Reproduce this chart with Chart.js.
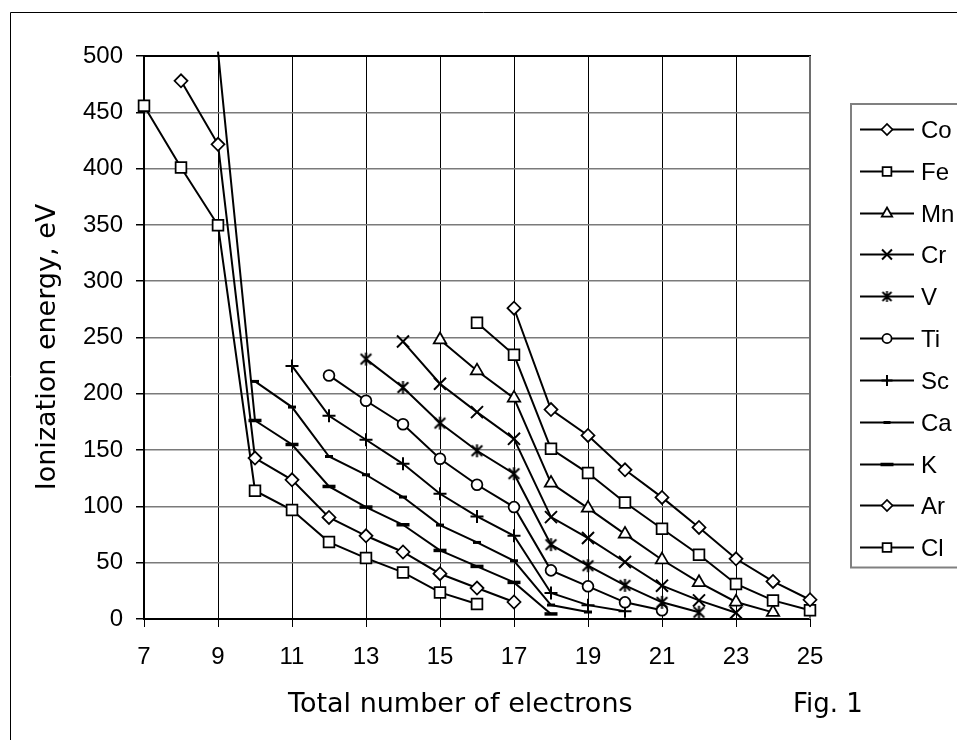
<!DOCTYPE html>
<html>
<head>
<meta charset="utf-8">
<script src="https://cdn.jsdelivr.net/npm/chart.js@4/dist/chart.umd.min.js"></script>
<style>
html,body{margin:0;padding:0;background:#fff;}
canvas{display:block;}
</style>
</head>
<body>
<canvas id="c" width="957" height="740"></canvas>
<script>
// ---------- data ----------
const electrons = [7,8,9,10,11,12,13,14,15,16,17,18,19,20,21,22,23,24,25];
const xTicks = [7,9,11,13,15,17,19,21,23,25];
const yTicks = [0,50,100,150,200,250,300,350,400,450,500];
const seriesNames = ['Co','Fe','Mn','Cr','V','Ti','Sc','Ca','K','Ar','Cl'];

const Co = [null,null,null,null,null,null,null,null,null,null,276,186,163,132.5,108,81.3,53.5,33.4,17.1];
const Fe = [null,null,null,null,null,null,null,null,null,263,234.6,151.2,129.6,103.5,80.2,57.1,31.1,16.5,7.7];
const Mn = [null,null,null,null,null,null,null,null,248,220.4,196.2,120.7,98.5,75.4,52.6,32.5,15.1,5.9,null];
const Cr = [null,null,null,null,null,null,null,246.4,208.9,183.7,160,90.5,71.9,50.6,29.6,16.5,5.5,null,null];
const V  = [null,null,null,null,null,null,230.8,205.6,174,149.4,129,66,47.3,29.9,14.8,6,null,null,null];
const Ti = [null,null,null,null,null,216.3,193.8,173,142.3,119.2,99.4,43.2,29,14.8,7.7,null,null,null,null];
const Sc = [null,null,null,null,224.8,180.5,159.2,137.8,111.2,91.1,73.9,23.1,12.3,6.8,null,null,null,null,null];
const Ca = [null,null,null,211,188.2,144.3,128.1,108.3,83.4,68,51.7,12.4,6.2,null,null,null,null,null,null];
const K  = [null,null,503.8,176.3,155,117.7,99.4,83.7,60.9,46.7,32.5,4.5,null,null,null,null,null,null,null];
const Ar = [null,478,421.6,142.9,123.6,90.2,73.9,59.5,40.2,27.5,15.1,null,null,null,null,null,null,null,null];
const Cl = [455.9,400.9,349.7,113.9,96.7,68.3,54.1,41.4,23.6,13.3,null,null,null,null,null,null,null,null,null];

const seriesValues = [Co,Fe,Mn,Cr,V,Ti,Sc,Ca,K,Ar,Cl];

// ---------- marker styles ----------
function asteriskCanvas(size, lw){
  const c = document.createElement('canvas');
  c.width = size; c.height = size;
  const g = c.getContext('2d');
  g.strokeStyle = '#000'; g.lineWidth = lw; g.lineCap = 'butt';
  const h = size/2, r = h - 1, d = r*0.82;
  g.beginPath();
  g.moveTo(h, h-r); g.lineTo(h, h+r);
  g.moveTo(h-d, h-d); g.lineTo(h+d, h+d);
  g.moveTo(h-d, h+d); g.lineTo(h+d, h-d);
  g.stroke();
  return c;
}
const starBig = asteriskCanvas(15, 2);
const starSmall = asteriskCanvas(13, 1.8);

const styles = {
  Co:{ps:'rectRot', r:6.5, bw:1.75, lr:5.5},
  Fe:{ps:'rect', r:7.6, bw:1.75, lr:6.2},
  Mn:{ps:'triangle', r:7.2, bw:1.75, lr:6},
  Cr:{ps:'crossRot', r:8.5, bw:2, lr:7},
  V: {ps:starBig, r:7, bw:2, lr:6, legendPs:starSmall},
  Ti:{ps:'circle', r:5.4, bw:1.75, lr:4.6},
  Sc:{ps:'cross', r:6.5, bw:2, lr:5.5},
  Ca:{ps:'line', r:4, bw:3, lr:3.5},
  K: {ps:'line', r:6.5, bw:3.5, lr:6.5},
  Ar:{ps:'rectRot', r:6.5, bw:1.75, lr:5.5},
  Cl:{ps:'rect', r:7.6, bw:1.75, lr:6.2}
};

const datasets = seriesNames.map((name, i) => {
  const vals = seriesValues[i];
  const pts = electrons.map((x, j) => ({x: x, y: vals[j]})).filter(p => p.y !== null);
  const st = styles[name];
  return {
    label: name,
    data: pts,
    borderColor: '#000',
    borderWidth: 2,
    backgroundColor: '#fff',
    pointStyle: st.ps,
    pointRadius: pts.map(p => p.y > 500 ? 0 : st.r),
    pointBorderWidth: st.bw,
    pointBackgroundColor: '#fff',
    pointBorderColor: '#000',
    tension: 0,
    clip: false,
    spanGaps: false
  };
});

// ---------- decoration plugin ----------
const deco = {
  id: 'deco',
  beforeDatasetsDraw(chart){
    const ctx = chart.ctx, a = chart.chartArea;
    ctx.save();
    // outer frame
    ctx.strokeStyle = '#000'; ctx.lineWidth = 1;
    ctx.beginPath();
    ctx.moveTo(10.5, 740); ctx.lineTo(10.5, 12.5); ctx.lineTo(957, 12.5);
    ctx.stroke();
    // plot border: top black, right grey
    ctx.lineWidth = 2;
    ctx.strokeStyle = '#000';
    ctx.beginPath(); ctx.moveTo(a.left, a.top); ctx.lineTo(a.right + 1, a.top); ctx.stroke();
    ctx.strokeStyle = '#6e6e6e';
    ctx.beginPath(); ctx.moveTo(a.right, a.top); ctx.lineTo(a.right, a.bottom); ctx.stroke();
    ctx.restore();
  },
  afterDraw(chart){
    const ctx = chart.ctx;
    ctx.save();
    ctx.fillStyle = '#000';
    // axis titles
    ctx.font = '27px "DejaVu Sans", Verdana, sans-serif';
    ctx.textAlign = 'left'; ctx.textBaseline = 'alphabetic';
    ctx.fillText('Total number of electrons', 288, 712);
    ctx.save();
    ctx.translate(55, 347);
    ctx.rotate(-Math.PI/2);
    ctx.textAlign = 'center';
    ctx.fillText('Ionization energy, eV', 0, 0);
    ctx.restore();
    ctx.font = '26px "DejaVu Sans", Verdana, sans-serif';
    ctx.fillText('Fig. 1', 793, 712);

    // legend
    ctx.strokeStyle = '#808080'; ctx.lineWidth = 2;
    ctx.strokeRect(851, 104, 140, 463.5);
    ctx.font = '24px "Liberation Sans", Arial, sans-serif';
    ctx.textBaseline = 'middle'; ctx.textAlign = 'left';
    seriesNames.forEach((name, i) => {
      const y = Math.round(129 + i*41.83) + 0.5;
      const st = styles[name];
      ctx.strokeStyle = '#000'; ctx.lineWidth = 2;
      ctx.beginPath(); ctx.moveTo(860, y); ctx.lineTo(914, y); ctx.stroke();
      ctx.fillStyle = '#fff'; ctx.strokeStyle = '#000'; ctx.lineWidth = st.bw;
      Chart.helpers.drawPoint(ctx, {pointStyle: st.legendPs || st.ps, radius: st.lr, rotation: 0, borderWidth: st.bw}, 887, y);
      ctx.fillStyle = '#000';
      ctx.fillText(name, 921, y + 2);
    });
    ctx.restore();
  }
};

const tickFont = {family: '"Liberation Sans", Arial, sans-serif', size: 24};

new Chart(document.getElementById('c'), {
  type: 'line',
  data: {datasets: datasets},
  options: {
    responsive: false,
    animation: false,
    devicePixelRatio: 1,
    events: [],
    layout: {padding: {left: 0, top: 56, right: 147, bottom: 0}},
    plugins: {legend: {display: false}, tooltip: {enabled: false}},
    scales: {
      x: {
        type: 'linear', min: 7, max: 25,
        afterBuildTicks: s => { s.ticks = xTicks.map(v => ({value: v})); },
        afterFit: s => { s.height = 121; },
        grid: {color: '#000', lineWidth: 1, tickLength: 8, tickColor: '#000'},
        border: {display: true, color: '#000', width: 2},
        ticks: {font: tickFont, color: '#000', padding: 16, maxRotation: 0, autoSkip: false}
      },
      y: {
        type: 'linear', min: 0, max: 500,
        afterBuildTicks: s => { s.ticks = yTicks.map(v => ({value: v})); },
        afterFit: s => { s.width = 144; },
        grid: {color: '#7a7a7a', lineWidth: 1.5, tickLength: 8, tickColor: '#000'},
        border: {display: true, color: '#000', width: 2},
        ticks: {font: tickFont, color: '#000', padding: 13, autoSkip: false}
      }
    }
  },
  plugins: [deco]
});
</script>
</body>
</html>
